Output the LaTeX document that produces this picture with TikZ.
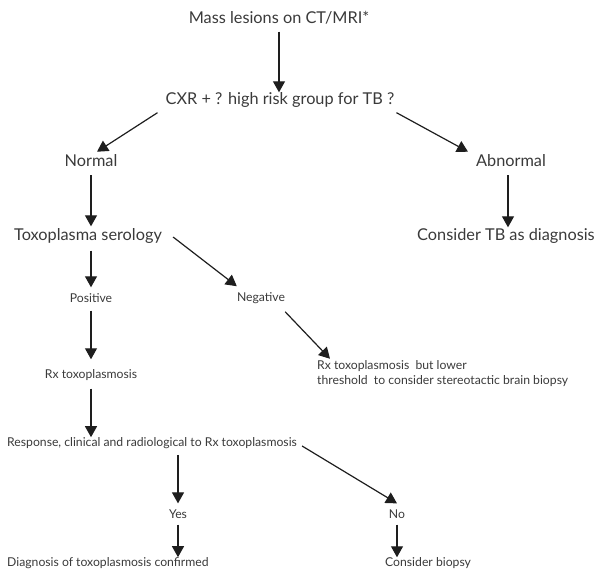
\documentclass[tikz,border=0pt]{standalone}
\usepackage{fontspec}
\setmainfont{Lato}
\usepackage{tikz}
\usetikzlibrary{arrows.meta, calc}
\definecolor{ink}{RGB}{58,58,58}
\definecolor{wire}{RGB}{30,30,30}

\begin{document}
\begin{tikzpicture}[
    x=1pt, y=-1pt,
    big/.style={font=\fontsize{16.3}{19}\selectfont, text=ink, inner sep=0pt},
    sml/.style={font=\fontsize{12.2}{15}\selectfont, text=ink, inner sep=0pt},
    arr/.style={-{Triangle[length=11pt, width=12pt]}, draw=wire, line width=1.2pt}
  ]
  \useasboundingbox (0,0) rectangle (615,572);
  \def\ra{18} \def\rb{100} \def\rc{161} \def\rd{236} \def\re{298}
  \def\rf{375} \def\rg{443} \def\rh{514} \def\ri{563}
  % top
  \node[big] (mass) at (279,\ra) {Mass lesions on CT/MRI*};
  \node[big] (cxr) at (280,\rb) {CXR + ? high risk group for TB ?};
  \node[big] (normal) at (91,\rc) {Normal};
  \node[big] (abnormal) at (511,\rc) {Abnormal};
  \node[big] (tbdiag) at (506,\rd) {Consider TB as diagnosis};
  \node[big] (sero) at (88,\rd) {Toxoplasma serology};

  % serology branches
  \node[sml] (pos) at (91,\re) {Positive};
  \node[sml] (neg) at (261,\re) {Negative};
  \node[sml] (rxtoxo) at (91,\rf) {Rx toxoplasmosis};
  \node[sml, anchor=west, align=left] (lower) at (317,\rf-1)
       {Rx toxoplasmosis\ \ but lower\\threshold\ \ to consider stereotactic brain biopsy};

  % response
  \node[sml, anchor=west] (resp) at (7,\rg) {Response, clinical and radiological to Rx toxoplasmosis};
  \node[sml] (yes) at (178,\rh) {Yes};
  \node[sml] (no) at (397,\rh) {No};
  \node[sml, anchor=west] (diag) at (7,\ri) {Diagnosis of toxoplasmosis confirmed};
  \node[sml, anchor=west] (biopsy) at (385,\ri) {Consider biopsy};

  % arrows
  \draw[arr] (mass.south) ++(0,7) -- (cxr.north -| mass.south);
  \draw[arr] ($(cxr.south west)+(-8,5)$) -- ($(normal.north)+(6,-3)$);
  \draw[arr] ($(cxr.south east)+(2,5)$) -- ($(abnormal.north)+(-43,-3)$);
  \draw[arr] ($(normal.south)+(0,8)$) -- ($(sero.north)+(3,-2)$);
  \draw[arr] ($(abnormal.south)+(-3,8)$) -- ($(tbdiag.north)+(2,-1)$);
  \draw[arr] ($(sero.south)+(3,7)$) -- ($(pos.north)+(0,-6)$);
  \draw[arr] ($(sero.east)+(11,1)$) -- ($(neg.north west)+(0,-6)$);
  \draw[arr] ($(pos.south)+(0,8)$) -- ($(rxtoxo.north)+(0,-10)$);
  \draw[arr] ($(neg.south east)+(0,8)$) -- ($(lower.north west)+(13,-2)$);
  \draw[arr] (rxtoxo.south) ++(0,8) -- (rxtoxo.south |- resp.north);
  \draw[arr] (yes.north |- resp.south) ++(0,6) -- ($(yes.north)+(0,-6)$);
  \draw[arr] ($(resp.east)+(5,3)$) -- ($(no.north)+(0,-6)$);
  \draw[arr] ($(yes.south)+(0,6)$) -- (yes.south |- diag.north);
  \draw[arr] ($(no.south)+(0,6)$) -- (no.south |- biopsy.north);
\end{tikzpicture}
\end{document}
